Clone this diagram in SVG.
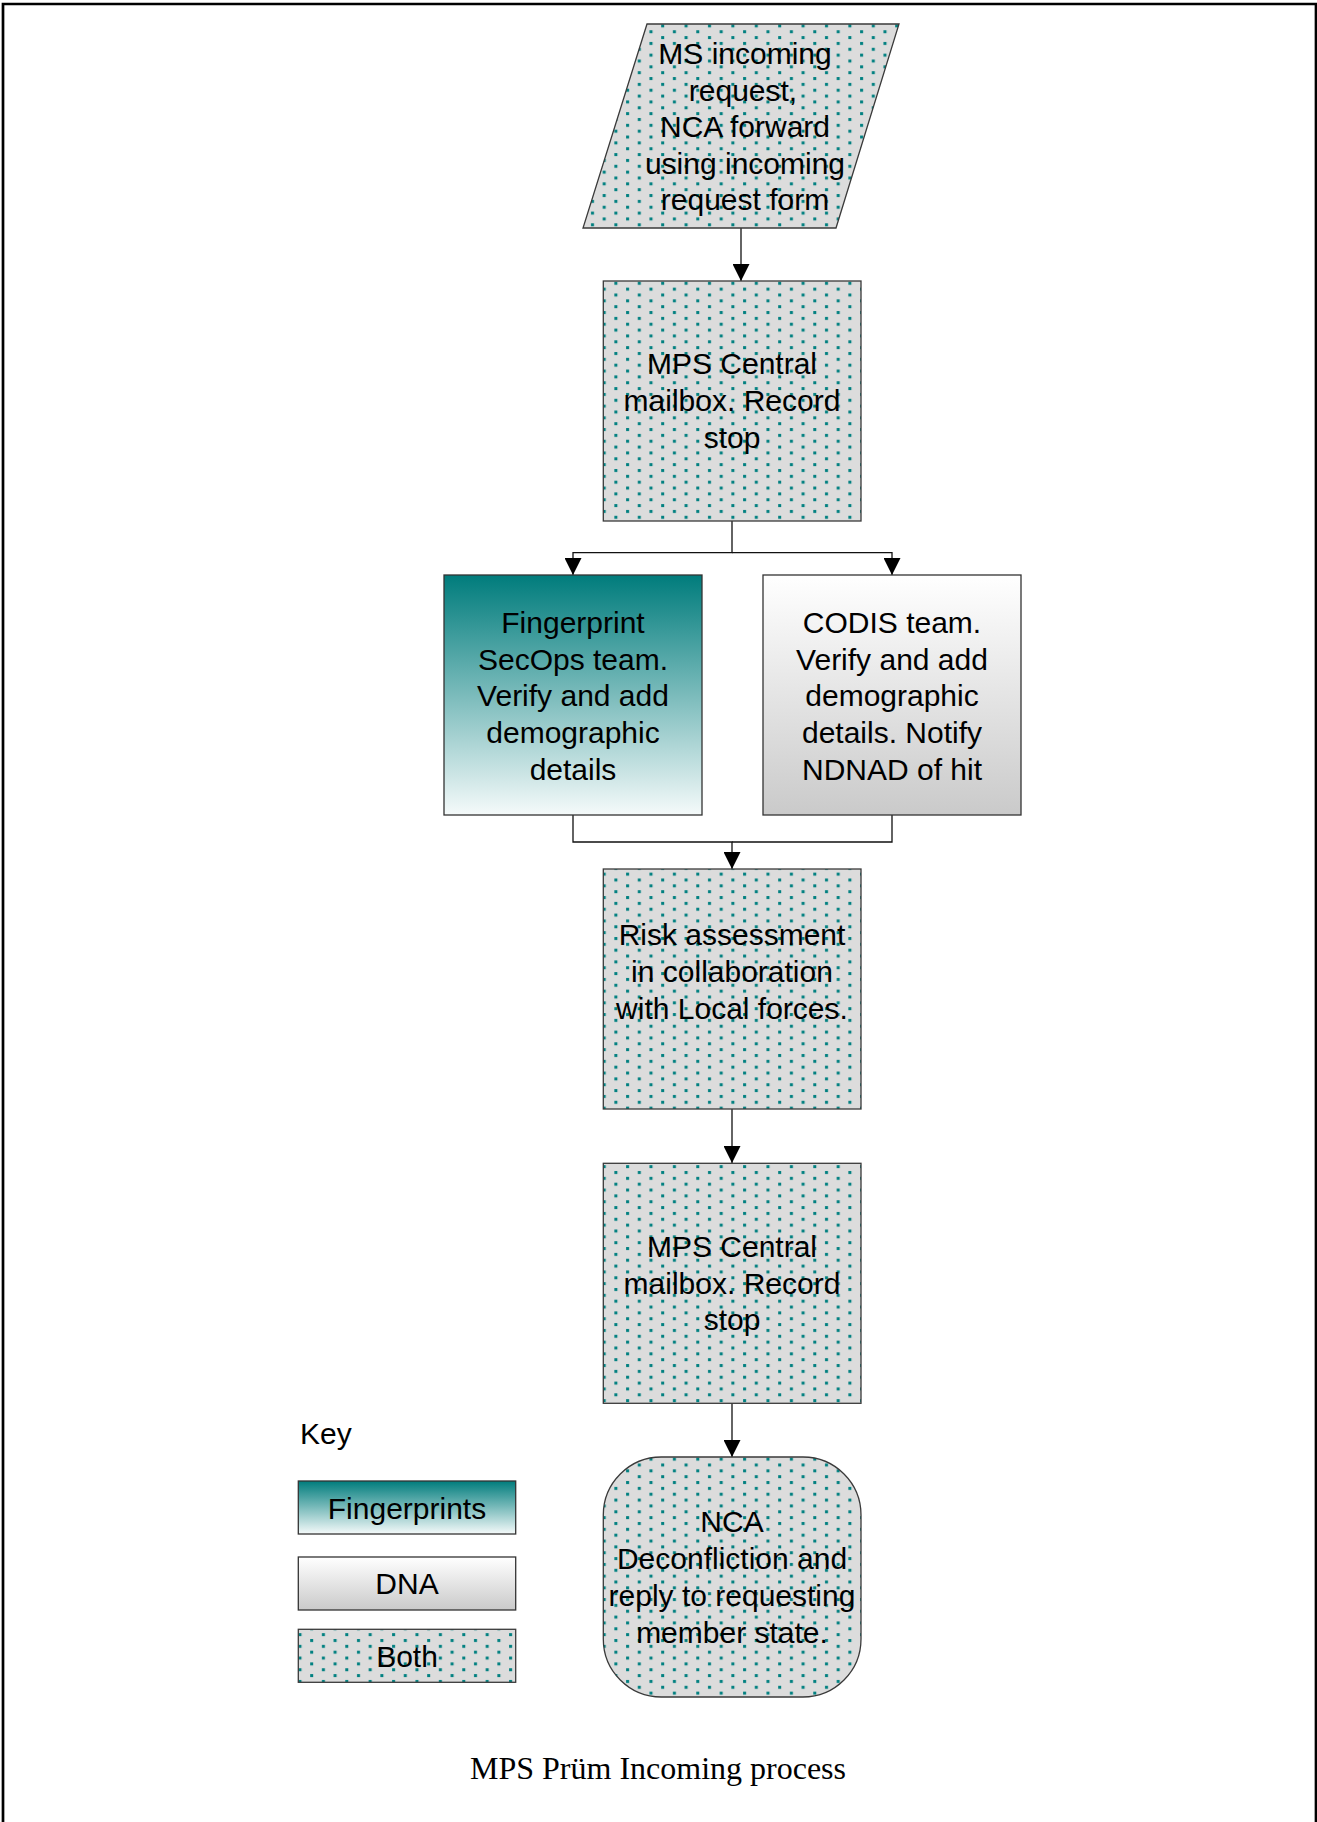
<svg xmlns="http://www.w3.org/2000/svg" width="1317" height="1822" viewBox="0 0 1317 1822">
<style>
  .lbl { font-family: "Liberation Sans", Arial, sans-serif; font-size: 30px; fill: #000; text-anchor: middle; }
  .key { font-family: "Liberation Sans", Arial, sans-serif; font-size: 30px; fill: #000; }
  .cap { font-family: "Liberation Serif", "Times New Roman", serif; font-size: 32px; fill: #000; text-anchor: middle; }
  .both { fill: url(#dots); stroke: #3a3a3a; stroke-width: 1.3; }
  .fp { fill: url(#gTeal); stroke: #333; stroke-width: 1.3; }
  .dna { fill: url(#gGray); stroke: #333; stroke-width: 1.3; }
  .conn { fill: none; stroke: #111; stroke-width: 1.3; }
</style>
<defs>
  <pattern id="dots" patternUnits="userSpaceOnUse" x="2" y="0" width="23.4" height="11.7">
    <rect width="23.4" height="11.7" fill="#DCDCDC"/>
    <rect x="4" y="1" width="3" height="3" fill="#008080"/>
    <rect x="15.7" y="6.85" width="3" height="3" fill="#008080"/>
  </pattern>
  <linearGradient id="gTeal" x1="0" y1="0" x2="0" y2="1">
    <stop offset="0" stop-color="#007C7C"/>
    <stop offset="1" stop-color="#F5FAFA"/>
  </linearGradient>
  <linearGradient id="gGray" x1="0" y1="0" x2="0" y2="1">
    <stop offset="0" stop-color="#FFFFFF"/>
    <stop offset="1" stop-color="#CACACA"/>
  </linearGradient>
  <marker id="arr" markerUnits="userSpaceOnUse" viewBox="0 0 17 17" markerWidth="17" markerHeight="17" refX="17" refY="8.5" orient="auto">
    <path d="M0,0 L17,8.5 L0,17 z" fill="#000"/>
  </marker>
</defs>

<rect x="0" y="0" width="1317" height="1822" fill="#fff"/>
<path d="M3,1824 V4 H1316 V1824" fill="none" stroke="#000" stroke-width="2.7"/>

<g id="connectors">
  <path class="conn" d="M741,228 V281" marker-end="url(#arr)"/>
  <path class="conn" d="M732,521 V552.7 H573 V575" marker-end="url(#arr)"/>
  <path class="conn" d="M732,552.7 H892 V575" marker-end="url(#arr)"/>
  <path class="conn" d="M573,815 V842 H732 V869" marker-end="url(#arr)"/>
  <path class="conn" d="M892,815 V842 H732"/>
  <path class="conn" d="M732,1109 V1163" marker-end="url(#arr)"/>
  <path class="conn" d="M732,1403 V1457" marker-end="url(#arr)"/>
</g>

<g id="n1">
  <polygon class="both" points="647,24 899,24 836,228 583,228"/>
  <text class="lbl" x="745" y="64">MS incoming</text>
  <text class="lbl" x="743" y="100.6">request,</text>
  <text class="lbl" x="745" y="137.2">NCA forward</text>
  <text class="lbl" x="745" y="173.8">using incoming</text>
  <text class="lbl" x="745" y="210.4">request form</text>
</g>

<g id="n2">
  <rect class="both" x="603.3" y="281" width="257.7" height="240"/>
  <text class="lbl" x="732" y="374.3">MPS Central</text>
  <text class="lbl" x="732" y="410.9">mailbox. Record</text>
  <text class="lbl" x="732" y="447.5">stop</text>
</g>

<g id="n3">
  <rect class="fp" x="444" y="575" width="258" height="240"/>
  <text class="lbl" x="573" y="632.7">Fingerprint</text>
  <text class="lbl" x="573" y="669.5">SecOps team.</text>
  <text class="lbl" x="573" y="706.3">Verify and add</text>
  <text class="lbl" x="573" y="743.1">demographic</text>
  <text class="lbl" x="573" y="779.9">details</text>
</g>

<g id="n4">
  <rect class="dna" x="763" y="575" width="258" height="240"/>
  <text class="lbl" x="892" y="632.7">CODIS team.</text>
  <text class="lbl" x="892" y="669.5">Verify and add</text>
  <text class="lbl" x="892" y="706.3">demographic</text>
  <text class="lbl" x="892" y="743.1">details. Notify</text>
  <text class="lbl" x="892" y="779.9">NDNAD of hit</text>
</g>

<g id="n5">
  <rect class="both" x="603.3" y="869" width="257.7" height="240"/>
  <text class="lbl" x="732" y="945">Risk assessment</text>
  <text class="lbl" x="732" y="981.8">in collaboration</text>
  <text class="lbl" x="732" y="1018.6">with Local forces.</text>
</g>

<g id="n6">
  <rect class="both" x="603.3" y="1163.3" width="257.7" height="240"/>
  <text class="lbl" x="732" y="1256.7">MPS Central</text>
  <text class="lbl" x="732" y="1293.5">mailbox. Record</text>
  <text class="lbl" x="732" y="1330.3">stop</text>
</g>

<g id="n7">
  <rect class="both" x="603.3" y="1457" width="257.7" height="240" rx="58" ry="58"/>
  <text class="lbl" x="732" y="1532">NCA</text>
  <text class="lbl" x="732" y="1569">Deconfliction and</text>
  <text class="lbl" x="732" y="1606">reply to requesting</text>
  <text class="lbl" x="732" y="1643">member state.</text>
</g>

<g id="legend">
  <text class="key" x="300" y="1444">Key</text>
  <rect class="fp" x="298.3" y="1481" width="217.4" height="53"/>
  <text class="lbl" x="407" y="1518.5">Fingerprints</text>
  <rect class="dna" x="298.3" y="1557" width="217.4" height="53"/>
  <text class="lbl" x="407" y="1594">DNA</text>
  <rect class="both" x="298.3" y="1629.3" width="217.4" height="53"/>
  <text class="lbl" x="407" y="1667">Both</text>
</g>

<g id="caption">
  <text class="cap" x="658" y="1779">MPS Prüm Incoming process</text>
</g>
</svg>
